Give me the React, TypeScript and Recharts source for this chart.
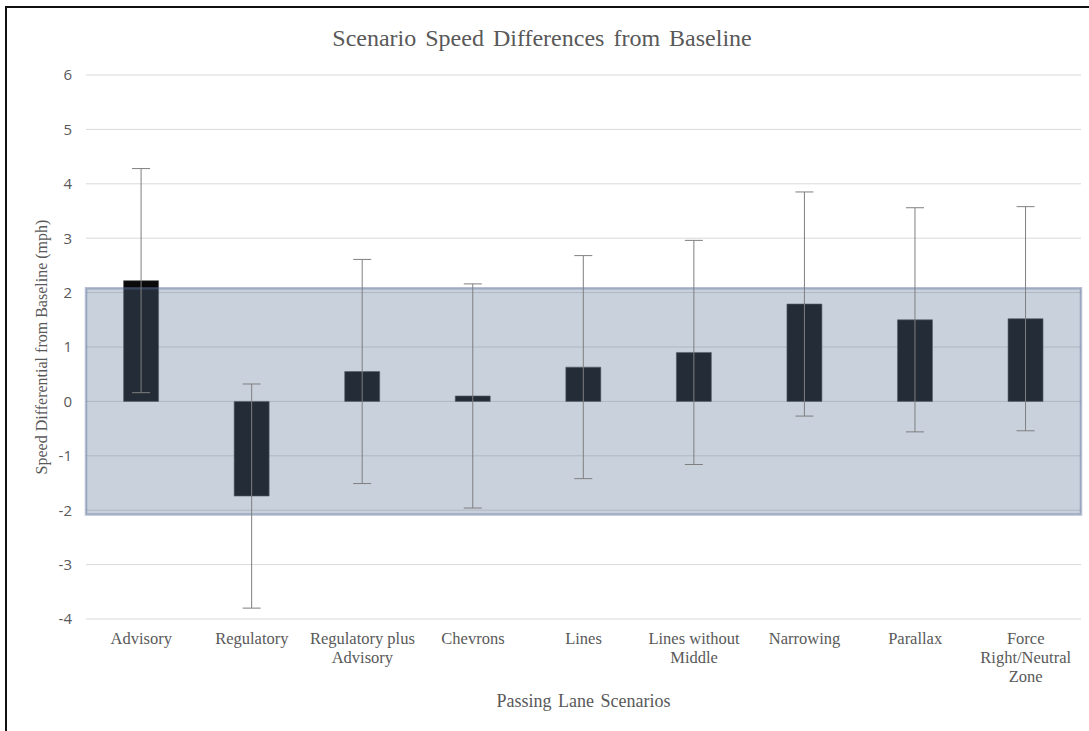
import { Bar, BarChart, CartesianGrid, ErrorBar, ReferenceArea, XAxis, YAxis } from "recharts";

const scenarios = [
  "Advisory",
  "Regulatory",
  "Regulatory plus Advisory",
  "Chevrons",
  "Lines",
  "Lines without Middle",
  "Narrowing",
  "Parallax",
  "Force Right/Neutral Zone"
];
const speedDiff = [2.22, -1.74, 0.55, 0.1, 0.63, 0.9, 1.79, 1.5, 1.52];
const errorSize = [2.06, 2.06, 2.06, 2.06, 2.05, 2.06, 2.06, 2.06, 2.06];
const yTicks = [-4, -3, -2, -1, 0, 1, 2, 3, 4, 5, 6];
const bandLow = -2.08;
const bandHigh = 2.08;

const data = scenarios.map((name, i) => ({ name, diff: speedDiff[i], err: errorSize[i] }));

const serif = "'Liberation Serif', 'Times New Roman', serif";
const sans = "'Open Sans', 'Liberation Sans', sans-serif";
const textColor = "#595959";

function wrap(label: string, max: number) {
  const lines: string[] = [];
  let cur = "";
  for (const w of label.split(" ")) {
    const next = cur ? cur + " " + w : w;
    if (next.length > max && cur) {
      lines.push(cur);
      cur = w;
    } else {
      cur = next;
    }
  }
  if (cur) lines.push(cur);
  return lines;
}

function CategoryTick(props: any) {
  const { x, y, payload } = props;
  const lines = wrap(String(payload.value), 15);
  return (
    <text x={x} y={y} textAnchor="middle" fill={textColor} fontFamily={serif} fontSize={16.5}>
      {lines.map((line, i) => (
        <tspan key={i} x={x} dy={i === 0 ? 17 : 19}>
          {line}
        </tspan>
      ))}
    </text>
  );
}

export default function App() {
  return (
    <div
      style={{
        position: "absolute",
        left: 0,
        top: 0,
        width: 1089,
        height: 731,
        background: "#fff",
        overflow: "hidden"
      }}
    >
      <div
        style={{
          position: "absolute",
          left: 5,
          top: 6,
          width: 1200,
          height: 800,
          borderLeft: "2px solid #111",
          borderTop: "2px solid #111"
        }}
      />
      <div
        style={{
          position: "absolute",
          left: 0,
          width: 1084,
          top: 25,
          textAlign: "center",
          fontFamily: serif,
          fontSize: 24,
          wordSpacing: 3,
          color: textColor
        }}
      >
        Scenario Speed Differences from Baseline
      </div>
      <div
        style={{
          position: "absolute",
          left: 86,
          width: 995,
          top: 691,
          textAlign: "center",
          fontFamily: serif,
          fontSize: 18,
          wordSpacing: 2,
          color: textColor
        }}
      >
        Passing Lane Scenarios
      </div>
      <div
        style={{
          position: "absolute",
          left: 42 - 200,
          top: 347 - 10,
          width: 400,
          height: 20,
          lineHeight: "20px",
          textAlign: "center",
          transform: "rotate(-90deg)",
          fontFamily: serif,
          fontSize: 16,
          color: textColor
        }}
      >
        Speed Differential from Baseline (mph)
      </div>
      <BarChart
        width={1089}
        height={731}
        data={data}
        margin={{ top: 75, right: 8, left: 46, bottom: 52 }}
        barCategoryGap="34%"
        style={{ position: "absolute", left: 0, top: 0 }}
      >
        <CartesianGrid vertical={false} stroke="#d9d9d9" strokeWidth={1} />
        <XAxis
          dataKey="name"
          axisLine={false}
          tickLine={false}
          interval={0}
          height={60}
          tick={<CategoryTick />}
        />
        <YAxis
          domain={[-4, 6]}
          ticks={yTicks}
          width={40}
          axisLine={false}
          tickLine={false}
          tickMargin={8}
          tick={{ fill: textColor, fontSize: 15, fontFamily: sans }}
        />
        <Bar dataKey="diff" fill="#0a0a0a" stroke="#555" strokeWidth={0.6} isAnimationActive={false}>
          <ErrorBar dataKey="err" direction="y" width={9} stroke="#7f7f7f" strokeWidth={1} />
        </Bar>
        <ReferenceArea
          y1={bandLow}
          y2={bandHigh}
          fill="#5a7299"
          fillOpacity={0.33}
          stroke="#5a7299"
          strokeOpacity={0.45}
          strokeWidth={2.5}
          zIndex={350}
        />
      </BarChart>
    </div>
  );
}
